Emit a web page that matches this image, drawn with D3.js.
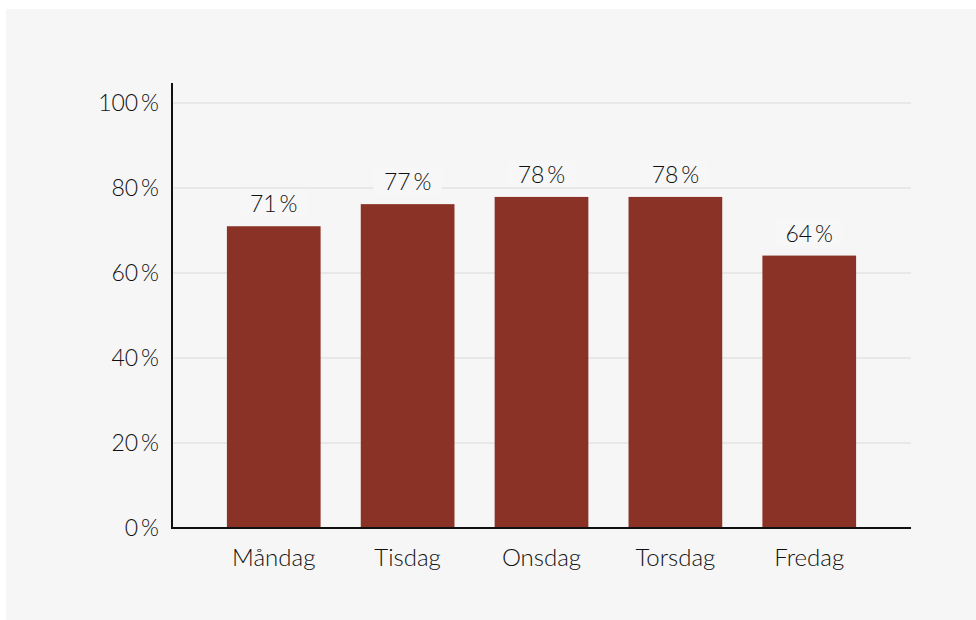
<!DOCTYPE html>
<html><head><meta charset="utf-8">
<script src="https://cdn.jsdelivr.net/npm/d3@7"></script>
<style>
html,body{margin:0;padding:0;background:#fff;}
svg{display:block;}
text{font-family:Lato, "Open Sans", sans-serif;fill:#111;font-weight:300;}
</style></head><body>
<svg id="c" width="976" height="620"></svg>
<script>
const categories = ["Måndag", "Tisdag", "Onsdag", "Torsdag", "Fredag"];
const values = [71, 76.2, 77.9, 77.9, 64.1];
const valueLabels = ["71\u2009%", "77\u2009%", "78\u2009%", "78\u2009%", "64\u2009%"];
const yTicks = [0, 20, 40, 60, 80, 100];

(function () {
const svg = d3.select("#c");
svg.append("rect").attr("x", 6).attr("y", 9).attr("width", 970).attr("height", 611).attr("fill", "#f6f6f6");

const pLeft = 172, pRight = 911, pBottom = 528, pTop = 103;
const x = d3.scaleBand().domain(categories).range([pLeft, pRight]).paddingInner(0.3).paddingOuter(0.41);
const y = d3.scaleLinear().domain([0, 100]).range([pBottom, pTop]);

// grid
svg.append("g").selectAll("line").data(yTicks.filter(d => d > 0)).join("line")
  .attr("x1", pLeft).attr("x2", pRight)
  .attr("y1", d => y(d)).attr("y2", d => y(d))
  .attr("stroke", "#e3e3e3").attr("stroke-width", 1.5);

// bars
svg.append("g").selectAll("rect").data(categories).join("rect")
  .attr("x", d => x(d)).attr("width", x.bandwidth())
  .attr("y", (d, i) => y(values[i])).attr("height", (d, i) => pBottom - y(values[i]))
  .attr("fill", "#8b3226");

// value labels with background
const lg = svg.append("g").selectAll("g").data(categories).join("g")
  .attr("transform", (d, i) => `translate(${x(d) + x.bandwidth() / 2},${y(values[i]) - 14})`);
lg.append("rect").attr("x", -34).attr("y", -22).attr("width", 68).attr("height", 26).attr("fill", "#f7f7f7");
lg.append("text").attr("text-anchor", "middle").attr("font-size", 23)
  .text((d, i) => valueLabels[i]);

// y axis
const yAxis = d3.axisLeft(y).tickValues(yTicks).tickSize(0).tickPadding(13).tickFormat(d => d + "\u2009%");
const gy = svg.append("g").attr("transform", `translate(${pLeft},0)`).call(yAxis);
gy.select(".domain").remove();
gy.selectAll("text").attr("font-size", 23).attr("font-family", null).attr("fill", "#111");

// x axis
const xAxis = d3.axisBottom(x).tickSize(0).tickPadding(21);
const gx = svg.append("g").attr("transform", `translate(0,${pBottom})`).call(xAxis);
gx.select(".domain").remove();
gx.selectAll("text").attr("font-size", 24).attr("font-family", null).attr("fill", "#111");

// axis lines
svg.append("line").attr("x1", pLeft).attr("x2", pLeft).attr("y1", y(104.7)).attr("y2", pBottom + 1)
  .attr("stroke", "#111").attr("stroke-width", 2);
svg.append("line").attr("x1", pLeft - 1).attr("x2", pRight).attr("y1", pBottom).attr("y2", pBottom)
  .attr("stroke", "#111").attr("stroke-width", 2);
})();
</script>
</body></html>
